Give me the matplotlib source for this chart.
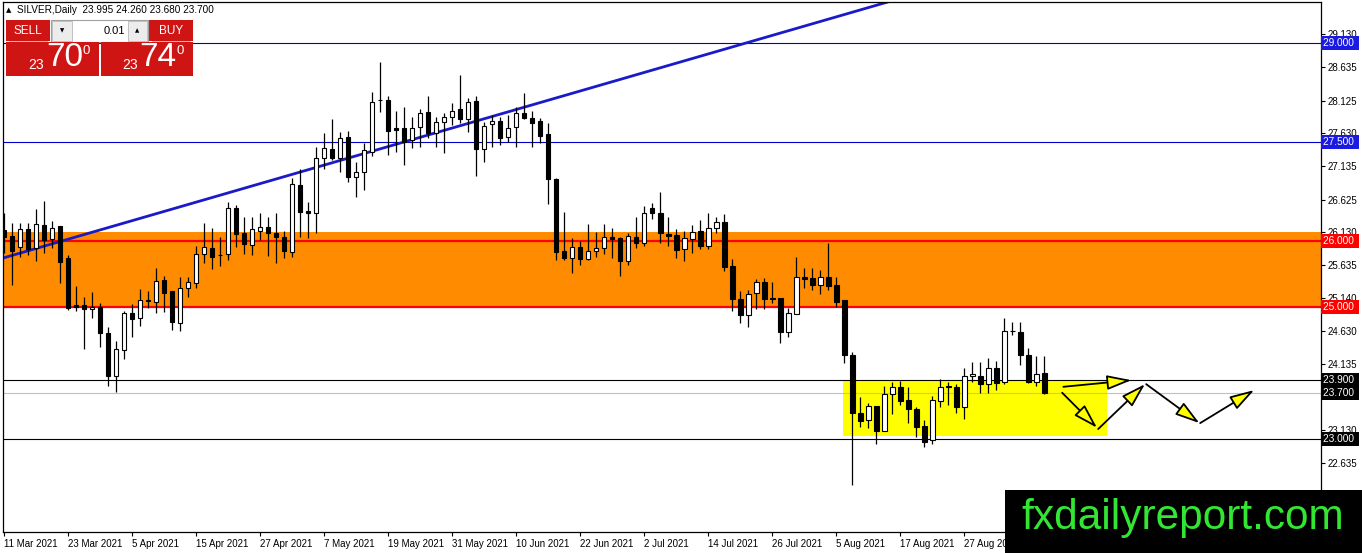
import numpy as np
import matplotlib
matplotlib.use("Agg")
import matplotlib.pyplot as plt
from matplotlib.patches import Rectangle

FONT = ["Liberation Sans", "DejaVu Sans"]
plt.rcParams["font.family"] = FONT

# -------------------- datos (velas diarias SILVER) --------------------
opens = [26.17, 26.08, 25.91, 26.18, 25.89, 26.24, 26.03, 26.23, 25.74, 25.03,
         25.03, 24.97, 25.00, 24.61, 23.95, 24.35, 24.91, 24.83, 25.11, 25.08,
         25.41, 25.24, 24.76, 25.29, 25.36, 25.80, 25.89, 25.79, 25.80, 26.50,
         26.12, 25.94, 26.15, 26.21, 26.12, 26.06, 25.83, 26.85, 26.46, 26.43,
         27.26, 27.39, 27.26, 27.58, 26.97, 27.05, 27.35, 28.14, 28.14, 27.71,
         27.71, 27.53, 27.73, 27.96, 27.64, 27.80, 27.88, 28.00, 27.85, 28.12,
         27.39, 27.77, 27.82, 27.58, 27.73, 27.94, 27.86, 27.82, 27.62, 26.94,
         25.85, 25.74, 25.91, 25.73, 25.85, 25.89, 26.06, 26.05, 25.70, 26.06,
         25.97, 26.50, 26.43, 26.11, 26.09, 25.88, 26.03, 26.15, 25.92, 26.20,
         26.29, 25.62, 25.12, 24.88, 25.21, 25.38, 25.14, 25.14, 24.62, 24.89,
         25.45, 25.44, 25.33, 25.45, 25.33, 25.11, 24.27, 23.39, 23.29, 23.50,
         23.12, 23.68, 23.79, 23.59, 23.45, 23.20, 22.98, 23.58, 23.80, 23.79,
         23.48, 23.95, 23.95, 23.83, 24.08, 23.86, 24.64, 24.62, 24.27, 23.86,
         23.995]
highs = [26.43, 26.27, 26.27, 26.27, 26.49, 26.61, 26.30, 26.23, 25.79, 25.32,
         25.15, 25.23, 25.06, 24.70, 24.49, 24.94, 25.05, 25.27, 25.24, 25.59,
         25.47, 25.24, 25.45, 25.45, 25.92, 26.27, 26.20, 26.06, 26.59, 26.55,
         26.36, 26.36, 26.43, 26.36, 26.43, 26.15, 26.95, 27.09, 26.59, 27.43,
         27.64, 27.85, 27.65, 27.67, 27.20, 27.49, 28.26, 28.71, 28.20, 27.97,
         28.03, 27.88, 28.00, 28.20, 27.88, 27.94, 28.09, 28.52, 28.17, 28.20,
         27.80, 27.91, 27.88, 27.91, 28.03, 28.24, 27.97, 27.86, 27.79, 26.95,
         26.44, 26.05, 26.00, 26.26, 26.14, 26.26, 26.20, 26.06, 26.12, 26.36,
         26.53, 26.58, 26.74, 26.36, 26.18, 26.15, 26.24, 26.32, 26.43, 26.36,
         26.41, 25.73, 25.24, 25.26, 25.43, 25.44, 25.38, 25.14, 24.99, 25.76,
         25.59, 25.59, 25.56, 25.97, 25.45, 25.11, 24.32, 23.64, 23.55, 23.50,
         23.80, 23.86, 23.88, 23.79, 23.48, 23.29, 23.65, 23.91, 23.86, 23.83,
         24.08, 24.17, 24.17, 24.23, 24.18, 24.83, 24.77, 24.77, 24.38, 24.26,
         24.26]
lows = [25.82, 25.33, 25.76, 25.79, 25.70, 25.82, 25.89, 25.36, 24.95, 24.94,
        24.36, 24.83, 24.39, 23.80, 23.71, 24.21, 24.55, 24.71, 24.99, 24.91,
        24.92, 24.65, 24.64, 25.15, 25.29, 25.67, 25.58, 25.62, 25.71, 25.91,
        25.80, 25.79, 26.02, 25.77, 25.67, 25.74, 25.76, 26.06, 26.05, 26.12,
        27.09, 27.23, 27.05, 26.89, 26.67, 26.77, 27.29, 27.96, 27.30, 27.35,
        27.15, 27.41, 27.43, 27.56, 27.43, 27.33, 27.76, 27.79, 27.65, 26.99,
        27.20, 27.43, 27.46, 27.50, 27.43, 27.85, 27.43, 27.49, 26.56, 25.71,
        25.71, 25.52, 25.64, 25.71, 25.76, 25.80, 25.74, 25.47, 25.64, 25.89,
        25.92, 26.33, 25.97, 25.92, 25.74, 25.70, 25.82, 25.88, 25.88, 26.12,
        25.55, 24.94, 24.76, 24.70, 24.97, 24.97, 25.06, 24.45, 24.55, 24.89,
        25.29, 25.26, 25.20, 25.26, 25.00, 24.15, 22.30, 23.18, 23.17, 22.92,
        23.12, 23.38, 23.52, 23.24, 23.03, 22.88, 22.92, 23.48, 23.52, 23.39,
        23.30, 23.86, 23.70, 23.70, 23.74, 23.83, 24.58, 24.12, 23.85, 23.80,
        23.68]
closes = [26.06, 25.85, 26.18, 25.88, 26.26, 26.02, 26.20, 25.68, 24.99, 25.00,
          24.97, 25.00, 24.61, 23.95, 24.36, 24.91, 24.82, 25.11, 25.09, 25.39,
          25.21, 24.77, 25.29, 25.38, 25.80, 25.91, 25.76, 25.78, 26.50, 26.11,
          25.95, 26.18, 26.21, 26.12, 26.06, 25.85, 26.86, 26.44, 26.43, 27.26,
          27.41, 27.26, 27.56, 26.97, 27.05, 27.38, 28.11, 28.13, 27.67, 27.68,
          27.50, 27.71, 27.94, 27.64, 27.80, 27.88, 27.97, 27.85, 28.11, 27.39,
          27.74, 27.82, 27.56, 27.71, 27.94, 27.86, 27.79, 27.59, 26.94, 25.83,
          25.74, 25.91, 25.73, 25.85, 25.89, 26.06, 26.03, 25.70, 26.08, 25.97,
          26.43, 26.43, 26.12, 26.08, 25.86, 26.05, 26.14, 25.92, 26.20, 26.29,
          25.61, 25.12, 24.88, 25.20, 25.38, 25.12, 25.12, 24.62, 24.91, 25.45,
          25.42, 25.33, 25.45, 25.32, 25.08, 24.27, 23.39, 23.27, 23.50, 23.12,
          23.68, 23.79, 23.58, 23.45, 23.18, 22.95, 23.59, 23.79, 23.79, 23.48,
          23.95, 23.98, 23.83, 24.08, 23.85, 24.64, 24.63, 24.27, 23.86, 23.98,
          23.70]

date_labels = ["11 Mar 2021", "23 Mar 2021", "5 Apr 2021", "15 Apr 2021", "27 Apr 2021",
               "7 May 2021", "19 May 2021", "31 May 2021", "10 Jun 2021", "22 Jun 2021",
               "2 Jul 2021", "14 Jul 2021", "26 Jul 2021", "5 Aug 2021", "17 Aug 2021",
               "27 Aug 2021"]
date_bars = [0, 8, 16, 24, 32, 40, 48, 56, 64, 72, 80, 88, 96, 104, 112, 120]

# 23.640 queda tapado por la etiqueta del bid: solo la marca
price_ticks = [29.130, 28.635, 28.125, 27.630, 27.135, 26.625, 26.130, 25.635,
               25.140, 24.630, 24.135, 23.640, 23.130, 22.635]
hidden_ticks = [23.640]

# niveles marcados
blue_levels = [29.0, 27.5]
red_levels = [26.0, 25.0]
black_levels = [23.9, 23.0]
bid_level = 23.7
zone_low, zone_high = 25.0, 26.14
box_x, box_y = [104.9, 137.9], [23.04, 23.90]

# línea de tendencia
trend_x = [-1, 115]
trend_y = [25.71, 29.78]

# flechas de escenario (inicio -> fin)
arrows = [((132.4, 23.79), (140.9, 23.89)),
          ((132.25, 23.70), (136.6, 23.17)),
          ((136.75, 23.15), (142.6, 23.83)),
          ((142.75, 23.83), (149.4, 23.24)),
          ((149.5, 23.24), (156.25, 23.74))]

# -------------------- figura --------------------
W, H = 1362, 553
fig = plt.figure(figsize=(W / 100, H / 100), dpi=100)
ax = fig.add_axes([3 / W, 1 - 532 / H, 1318 / W, 530 / H])
ax.set_xlim(-0.125, 164.6)
ax.set_ylim(21.59, 29.62)

ax.axhspan(zone_low, zone_high, color="#ff8c00", lw=0, zorder=1)
ax.add_patch(Rectangle((box_x[0], box_y[0]), box_x[1] - box_x[0], box_y[1] - box_y[0],
                       facecolor="#ffff00", edgecolor="none", zorder=1.5))

for lv in blue_levels:
    ax.axhline(lv, color="#0000c8", lw=0.8, zorder=2)
for lv in red_levels:
    ax.axhline(lv, color="#ff0000", lw=1.6, zorder=2)
for lv in black_levels:
    ax.axhline(lv, color="black", lw=0.8, zorder=2)
ax.axhline(bid_level, color="#c0c0c0", lw=0.8, zorder=2)

ax.plot(trend_x, trend_y, color="#1a1ac8", lw=2.0, zorder=2.5)

# velas
o = np.array(opens)
c = np.array(closes)
x = np.arange(len(o))
ax.vlines(x, lows, highs, color="black", lw=0.9, zorder=3)
body_h = np.maximum(np.abs(c - o), 0.004)
ax.bar(x, body_h, bottom=np.minimum(o, c), width=0.6,
       color=np.where(c >= o, "white", "black"), edgecolor="black", linewidth=0.8, zorder=4)

for (x0, y0), (x1, y1) in arrows:
    ax.annotate("", xy=(x1, y1), xytext=(x0, y0), zorder=6,
                arrowprops=dict(arrowstyle="-|>,head_length=1.5,head_width=0.45",
                                fc="#ffff00", ec="black", lw=1.3, shrinkA=0, shrinkB=0))

# ejes
ax.yaxis.tick_right()
ax.set_yticks(price_ticks)
ax.set_yticklabels(["" if v in hidden_ticks else f"{v:.3f}" for v in price_ticks])
ax.set_xticks(date_bars)
ax.set_xticklabels(date_labels)
for lbl in ax.get_xticklabels():
    lbl.set_ha("left")
ax.tick_params(axis="both", direction="out", length=3, width=0.8, labelsize=7, pad=2)
for sp in ax.spines.values():
    sp.set_color("black")
    sp.set_linewidth(0.9)

# etiquetas de precio resaltadas
marks = [(29.0, "#1a1ae0"), (27.5, "#1a1ae0"), (26.0, "#ff0000"), (25.0, "#ff0000"),
         (23.9, "black"), (23.7, "black"), (23.0, "black")]
for val, col in marks:
    ax.text(1.0015, val, f"{val:.3f} ", transform=ax.get_yaxis_transform(), fontsize=7.3,
            color="white", va="center", ha="left", zorder=10, clip_on=False,
            bbox=dict(boxstyle="square,pad=0.2", fc=col, ec="none"))

# -------------------- panel superior y logo (coordenadas en píxeles) --------------------
ov = fig.add_axes([0, 0, 1, 1], zorder=20)
ov.set_xlim(0, W)
ov.set_ylim(H, 0)
ov.axis("off")
ov.patch.set_visible(False)

ov.text(6, 10, "▲", fontsize=5, va="center", ha="left", family=["DejaVu Sans"])
ov.text(17, 10, "SILVER,Daily  23.995 24.260 23.680 23.700", fontsize=7.2, va="center", ha="left")

red = "#cf1414"
ov.add_patch(Rectangle((6, 20), 44, 21, fc=red, ec="none"))
ov.add_patch(Rectangle((149, 20), 44, 21, fc=red, ec="none"))
ov.add_patch(Rectangle((51, 20), 97, 22, fc="white", ec="#a0a0a0", lw=0.8))
ov.add_patch(Rectangle((52, 21), 20, 20, fc="#ececec", ec="#b8b8b8", lw=0.6))
ov.add_patch(Rectangle((128, 21), 19, 20, fc="#ececec", ec="#b8b8b8", lw=0.6))
ov.text(62, 31, "▼", fontsize=4, ha="center", va="center", family=["DejaVu Sans"])
ov.text(137, 31, "▲", fontsize=4, ha="center", va="center", family=["DejaVu Sans"])
ov.text(125, 31, "0.01", fontsize=8, ha="right", va="center")
ov.text(28, 31, "SELL", fontsize=8.5, ha="center", va="center", color="white")
ov.text(171, 31, "BUY", fontsize=8.5, ha="center", va="center", color="white")
ov.plot([9, 47], [41, 41], color="#f0a0a0", lw=0.6)
ov.plot([152, 190], [41, 41], color="#f0a0a0", lw=0.6)

ov.add_patch(Rectangle((6, 42), 93, 34, fc=red, ec="none"))
ov.add_patch(Rectangle((101, 42), 92, 34, fc=red, ec="none"))
ov.text(36, 65, "23", fontsize=10, ha="center", va="center", color="white")
ov.text(65, 58, "70", fontsize=24, ha="center", va="center", color="white")
ov.text(86, 51, "0", fontsize=9.5, ha="center", va="center", color="white")
ov.text(130, 65, "23", fontsize=10, ha="center", va="center", color="white")
ov.text(158, 58, "74", fontsize=24, ha="center", va="center", color="white")
ov.text(180, 51, "0", fontsize=9.5, ha="center", va="center", color="white")

ov.add_patch(Rectangle((1005, 490), W - 1005, H - 490, fc="black", ec="none"))
ov.text(1183, 518, "fxdailyreport.com", fontsize=30.5, ha="center", va="center", color="#33e633")

fig.savefig("out.png", dpi=100)
